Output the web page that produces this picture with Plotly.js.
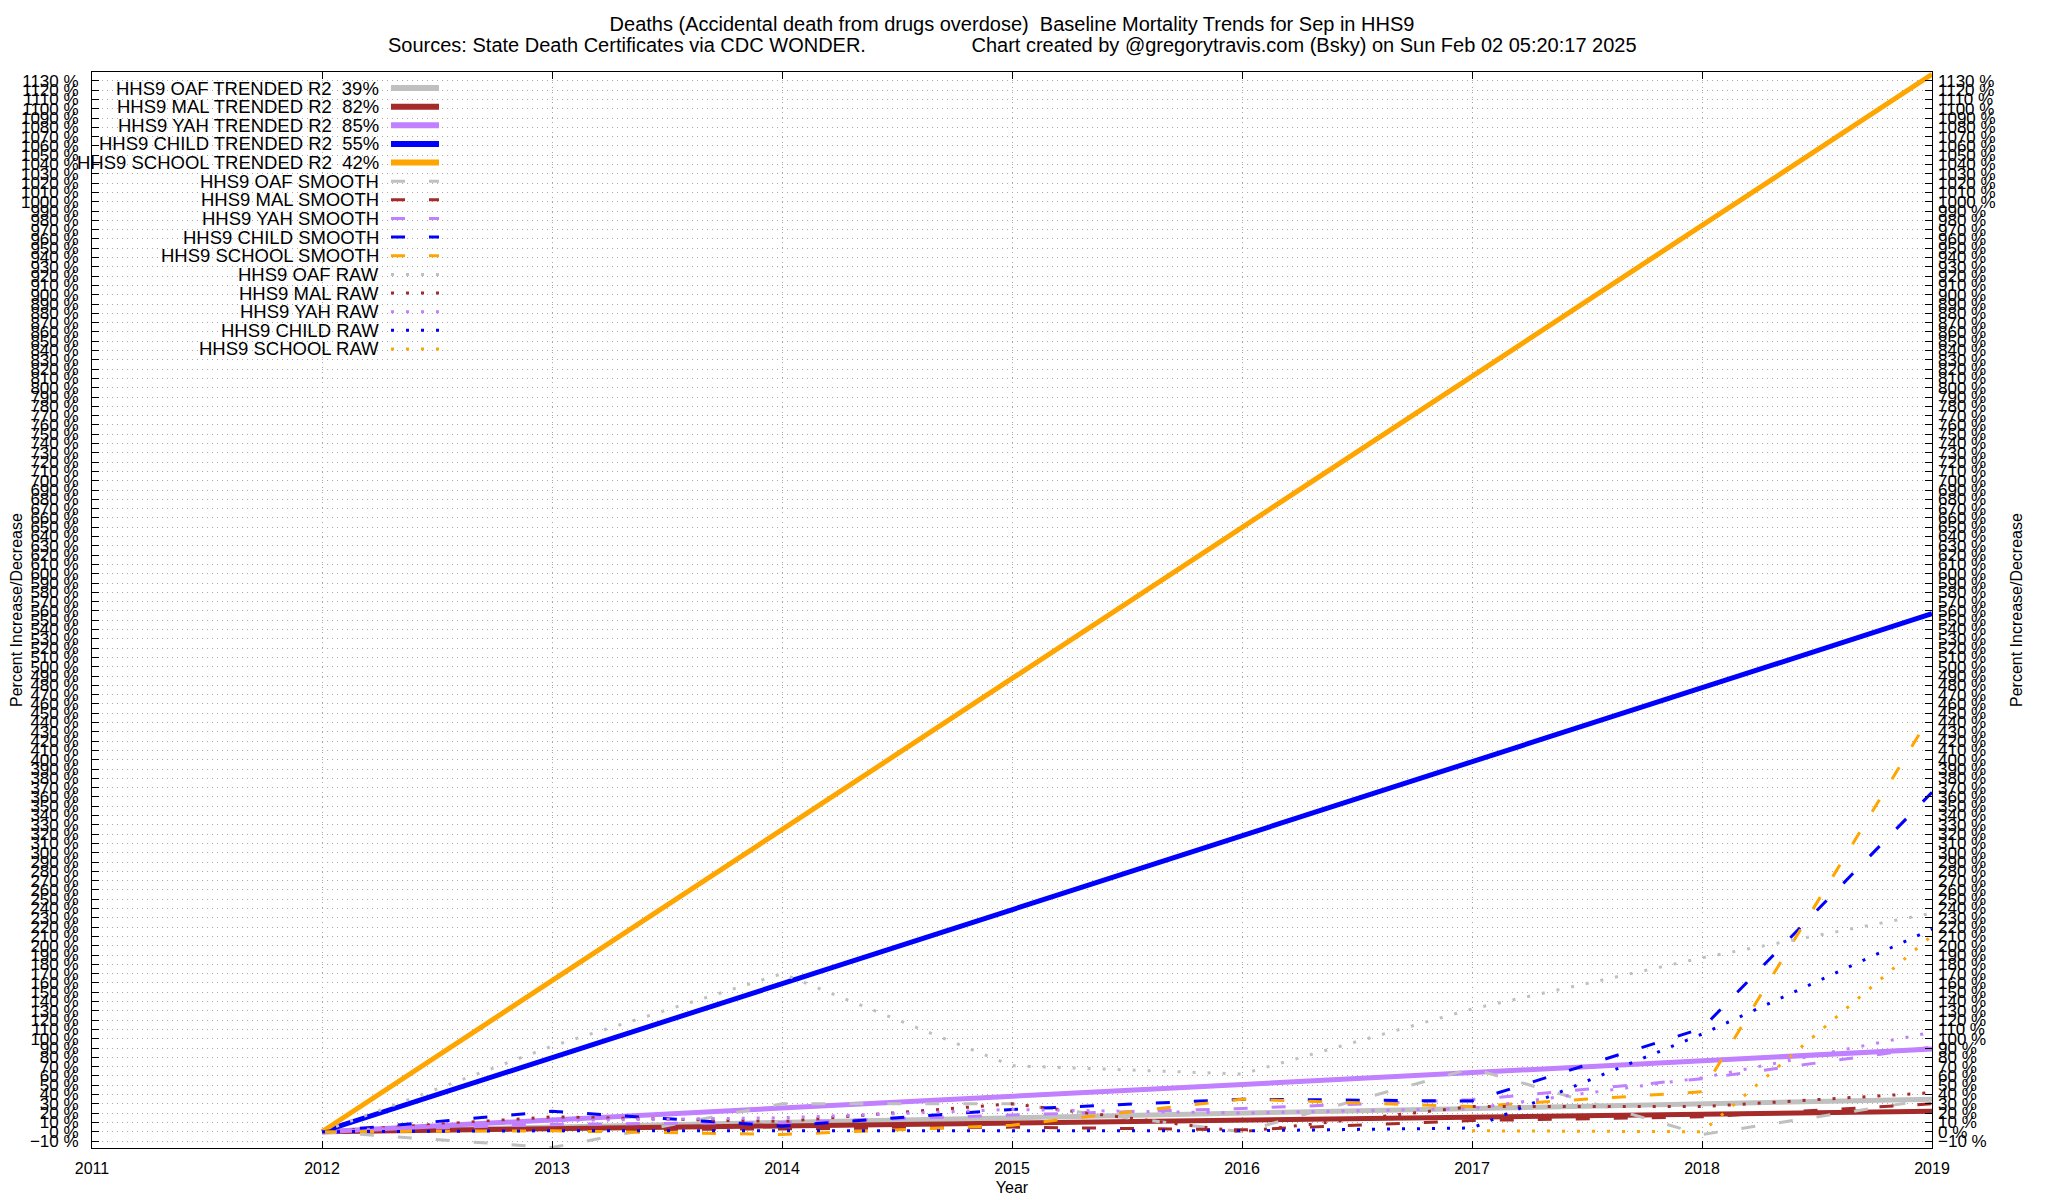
<!DOCTYPE html>
<html>
<head>
<meta charset="utf-8">
<script src="https://cdn.plot.ly/plotly-3.0.1.min.js"></script>
<style>
html,body{margin:0;padding:0;background:#fff;}
#chart{width:2048px;height:1200px;}
</style>
</head>
<body>
<div id="chart"></div>
<script>
// ---------------- DATA ----------------
const years = [2012, 2013, 2014, 2015, 2016, 2017, 2018, 2019];
const trendYears = [2012, 2019];

// Trended (fitted straight lines) – start / end values, %
const oafTrend    = [0, 35];
const malTrend    = [0, 22];
const yahTrend    = [0, 89];
const childTrend  = [0, 557];
const schoolTrend = [0, 1137];

// Smoothed series, %
const oafSmooth    = [0, -17, 30, 30, 0, 68, -3, 35];
const malSmooth    = [0, 2, 3, 5, 2, 12, 16, 30];
const yahSmooth    = [0, 8, 10, 18, 25, 34.5, 57, 91];
const childSmooth  = [0, 22, 6, 24, 35, 33, 111, 365];
const schoolSmooth = [0, 1, -3, 7, 35, 27, 43, 450];

// Raw series, %
const oafRaw    = [0, 92, 170, 71, 62, 132, 187, 235];
const malRaw    = [0, 16, 11, 30, 0, 27, 27, 42];
const yahRaw    = [0, 12, 15, 24, 20, 25, 58, 107];
const childRaw  = [0, 1, 1, 1, 1, 4, 105, 218];
const schoolRaw = [null, null, null, null, null, 1, 0, 211];

const groups = ['OAF', 'MAL', 'YAH', 'CHILD', 'SCHOOL'];
const r2 = ['39%', '82%', '85%', '55%', '42%'];
const colors = {OAF:'#c0c0c0', MAL:'#a52a2a', YAH:'#c080ff', CHILD:'#0000ff', SCHOOL:'#ffa500'};

const trendData  = {OAF:oafTrend, MAL:malTrend, YAH:yahTrend, CHILD:childTrend, SCHOOL:schoolTrend};
const smoothData = {OAF:oafSmooth, MAL:malSmooth, YAH:yahSmooth, CHILD:childSmooth, SCHOOL:schoolSmooth};
const rawData    = {OAF:oafRaw, MAL:malRaw, YAH:yahRaw, CHILD:childRaw, SCHOOL:schoolRaw};

const titleLine1 = 'Deaths (Accidental death from drugs overdose)  Baseline Mortality Trends for Sep in HHS9';
const titleLine2a = 'Sources: State Death Certificates via CDC WONDER.';
const titleLine2b = 'Chart created by @gregorytravis.com (Bsky) on Sun Feb 02 05:20:17 2025';
const yTitle = 'Percent Increase/Decrease';
const xTitle = 'Year';

// ---------------- STYLE ----------------
const FONT = '"Liberation Sans", Arial, Helvetica, sans-serif';
const TREND_W = 5, SMOOTH_W = 3, RAW_W = 3;
const DASH = '14px,24px', DOT = '3px,12px';

const traces = [];
const legendItems = [];
groups.forEach((g, i) => {
  traces.push({x: trendYears, y: trendData[g], mode:'lines', type:'scatter',
    line:{color:colors[g], width:TREND_W}, hoverinfo:'skip'});
  legendItems.push({label:'HHS9 ' + g + ' TRENDED R2\u00A0\u00A0' + r2[i], color:colors[g], width:TREND_W + 1, dash:'solid'});
});
groups.forEach(g => {
  traces.push({x: years, y: smoothData[g], mode:'lines', type:'scatter',
    line:{color:colors[g], width:SMOOTH_W, dash:DASH}, hoverinfo:'skip'});
  legendItems.push({label:'HHS9 ' + g + ' SMOOTH', color:colors[g], width:SMOOTH_W, dash:DASH});
});
groups.forEach(g => {
  traces.push({x: years, y: rawData[g], mode:'lines', type:'scatter',
    line:{color:colors[g], width:RAW_W, dash:DOT}, hoverinfo:'skip'});
  legendItems.push({label:'HHS9 ' + g + ' RAW', color:colors[g], width:RAW_W, dash:DOT});
});
// invisible companion so the right-hand axis is drawn
traces.push({x: trendYears, y: schoolTrend, yaxis:'y2', mode:'lines', type:'scatter',
  opacity:0, line:{width:0}, hoverinfo:'skip'});

// plot area in pixels
const L = 92, R = 1932, T = 72, B = 1148;
const px2x = p => (p - L) / (R - L);
const py2y = p => 1 - (p - T) / (B - T);

const annotations = [];
const shapes = [];
legendItems.forEach((it, i) => {
  const py = 88 + 18.64 * i;
  annotations.push({xref:'paper', yref:'paper', x:px2x(381), y:py2y(py), xanchor:'right', yanchor:'middle',
    text:it.label, showarrow:false, font:{family:FONT, size:18.5, color:'#000'}});
  shapes.push({type:'line', xref:'paper', yref:'paper', x0:px2x(391), x1:px2x(439), y0:py2y(py), y1:py2y(py),
    line:{color:it.color, width:it.width, dash:it.dash}});
});
// second title line
const NB = '\u00A0';
annotations.push({xref:'paper', yref:'paper', x:0.5, y:py2y(45.5), xanchor:'center', yanchor:'middle',
  text: titleLine2a + NB.repeat(19) + titleLine2b, showarrow:false, font:{family:FONT, size:20, color:'#000'}});
// vertical axis titles (left and right)
annotations.push({xref:'paper', yref:'paper', x:px2x(16), y:0.5, xanchor:'center', yanchor:'middle',
  textangle:-90, text:yTitle, showarrow:false, font:{family:FONT, size:16, color:'#000'}});
annotations.push({xref:'paper', yref:'paper', x:px2x(2016), y:0.5, xanchor:'center', yanchor:'middle',
  textangle:-90, text:yTitle, showarrow:false, font:{family:FONT, size:16, color:'#000'}});

const yRange = [-17.5, 1139.5];
const layout = {
  width:2048, height:1200,
  margin:{l:L, r:2048 - R, t:T, b:1200 - B, pad:0},
  paper_bgcolor:'#fff', plot_bgcolor:'#fff',
  showlegend:false, hovermode:false,
  font:{family:FONT, color:'#000'},
  title:{text: titleLine1.replace(/  /g, ' ' + NB),
    font:{family:FONT, size:20, color:'#000'}, xref:'paper', x:0.5, xanchor:'center',
    yref:'container', y:1 - 23.5/1200, yanchor:'middle'},
  xaxis:{range:[2011, 2019], tickmode:'linear', tick0:2011, dtick:1,
    ticks:'inside', ticklen:7, tickwidth:1, tickcolor:'#000',
    showline:true, linecolor:'#000', linewidth:1, mirror:'ticks',
    showgrid:true, gridcolor:'#a8a8a8', gridwidth:1, griddash:'1px,4px', zeroline:false,
    tickfont:{family:FONT, size:16, color:'#000'}, ticklabelstandoff:6,
    title:{text:xTitle, font:{family:FONT, size:16, color:'#000'}, standoff:5}},
  yaxis:{range:yRange, tickmode:'linear', tick0:-10, dtick:10, ticksuffix:' %',
    ticks:'inside', ticklen:7, tickwidth:1, tickcolor:'#000',
    showline:true, linecolor:'#000', linewidth:1, mirror:'ticks',
    showgrid:true, gridcolor:'#a8a8a8', gridwidth:1, griddash:'1px,4px', zeroline:false,
    tickfont:{family:FONT, size:17, color:'#000'}, ticklabelstandoff:9},
  yaxis2:{range:yRange, overlaying:'y', side:'right', tickmode:'linear', tick0:-10, dtick:10, ticksuffix:' %',
    ticks:'', showline:false, showgrid:false, zeroline:false,
    tickfont:{family:FONT, size:17, color:'#000'}, ticklabelstandoff:5},
  annotations: annotations,
  shapes: shapes
};

Plotly.newPlot('chart', traces, layout, {staticPlot:true, displayModeBar:false});
</script>
</body>
</html>
